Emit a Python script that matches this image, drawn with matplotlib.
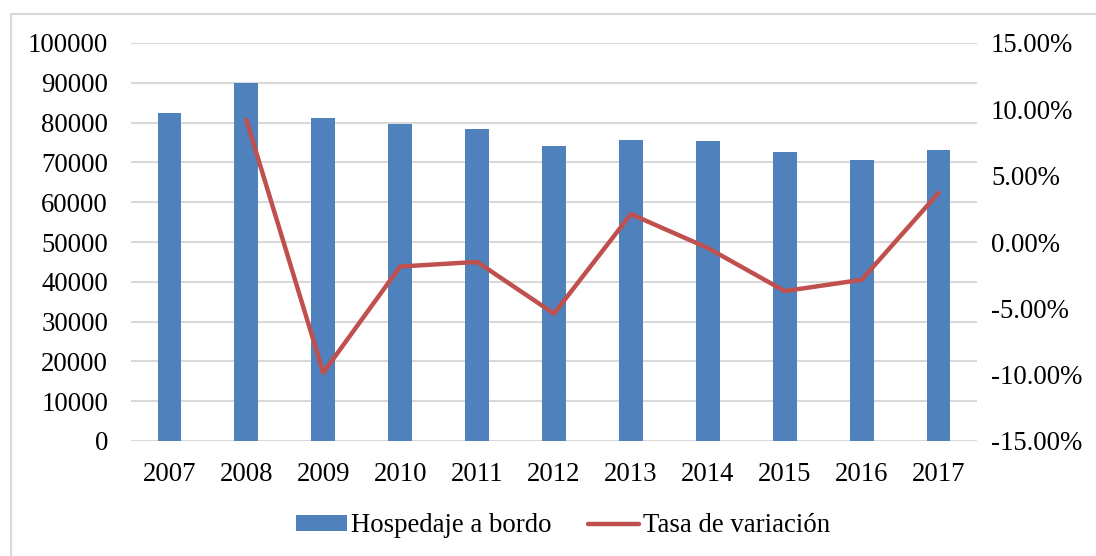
import numpy as np
import matplotlib
matplotlib.use('Agg')
import matplotlib.pyplot as plt
from matplotlib.patches import Rectangle
from matplotlib.ticker import FuncFormatter


years = ['2007', '2008', '2009', '2010', '2011', '2012', '2013', '2014', '2015', '2016', '2017']
hospedaje = [82400, 90000, 81100, 79700, 78400, 74100, 75600, 75400, 72600, 70600, 73100]
# tasa de variacion (%), no value for 2007
tasa_years = ['2008', '2009', '2010', '2011', '2012', '2013', '2014', '2015', '2016', '2017']
tasa = [9.2, -9.85, -1.85, -1.5, -5.4, 2.1, -0.45, -3.7, -2.85, 3.7]

BAR_COLOR = '#4f81bd'
LINE_COLOR = '#c0504d'
GRID_COLOR = '#d9d9d9'
FONT_SIZE = 19.3

plt.rcParams['font.family'] = ['Liberation Serif', 'DejaVu Serif']

fig = plt.figure(figsize=(10.96, 5.56), dpi=100)
fig.patches.append(Rectangle((11 / 1096, -0.01), 1.0, 1 - 14 / 556 + 0.01,
                             transform=fig.transFigure, fill=False,
                             edgecolor='#d9d9d9', linewidth=1.5))

ax = fig.add_axes([131 / 1096, 1 - 441 / 556, (977 - 131) / 1096, (441 - 43) / 556])
x = np.arange(len(years))
bars = ax.bar(x, hospedaje, width=0.31, color=BAR_COLOR, zorder=2,
              label='Hospedaje a bordo')
ax.set_ylim(0, 100000)
ax.set_xlim(-0.5, len(years) - 0.5)
ax.set_yticks(np.arange(0, 100001, 10000))
ax.set_xticks(x)
ax.set_xticklabels(years)
ax.yaxis.grid(True, color=GRID_COLOR, linewidth=1.5, zorder=0)
ax.set_axisbelow(True)
for s in ax.spines.values():
    s.set_visible(False)
ax.tick_params(length=0, labelsize=FONT_SIZE)
ax.tick_params(axis='y', pad=16.5)
ax.tick_params(axis='x', pad=15)

ax2 = ax.twinx()
tx = [years.index(y) for y in tasa_years]
line, = ax2.plot(tx, tasa, color=LINE_COLOR, linewidth=3.2, solid_capstyle='round',
                 label='Tasa de variación', zorder=3)
ax2.set_ylim(-15, 15)
ax2.set_yticks(np.arange(-15, 15.1, 5))
ax2.yaxis.set_major_formatter(FuncFormatter(lambda v, p: '{:.2f}%'.format(v)))
for s in ax2.spines.values():
    s.set_visible(False)
ax2.tick_params(length=0, labelsize=FONT_SIZE, pad=10)

fig.legend([bars, line], ['Hospedaje a bordo', 'Tasa de variación'],
           loc='center', bbox_to_anchor=(563 / 1096, 1 - 526 / 556), ncol=2,
           frameon=False, fontsize=FONT_SIZE, handlelength=1.9, handleheight=0.55,
           handletextpad=0.15, columnspacing=1.35)

fig.savefig('out.png', dpi=100)
